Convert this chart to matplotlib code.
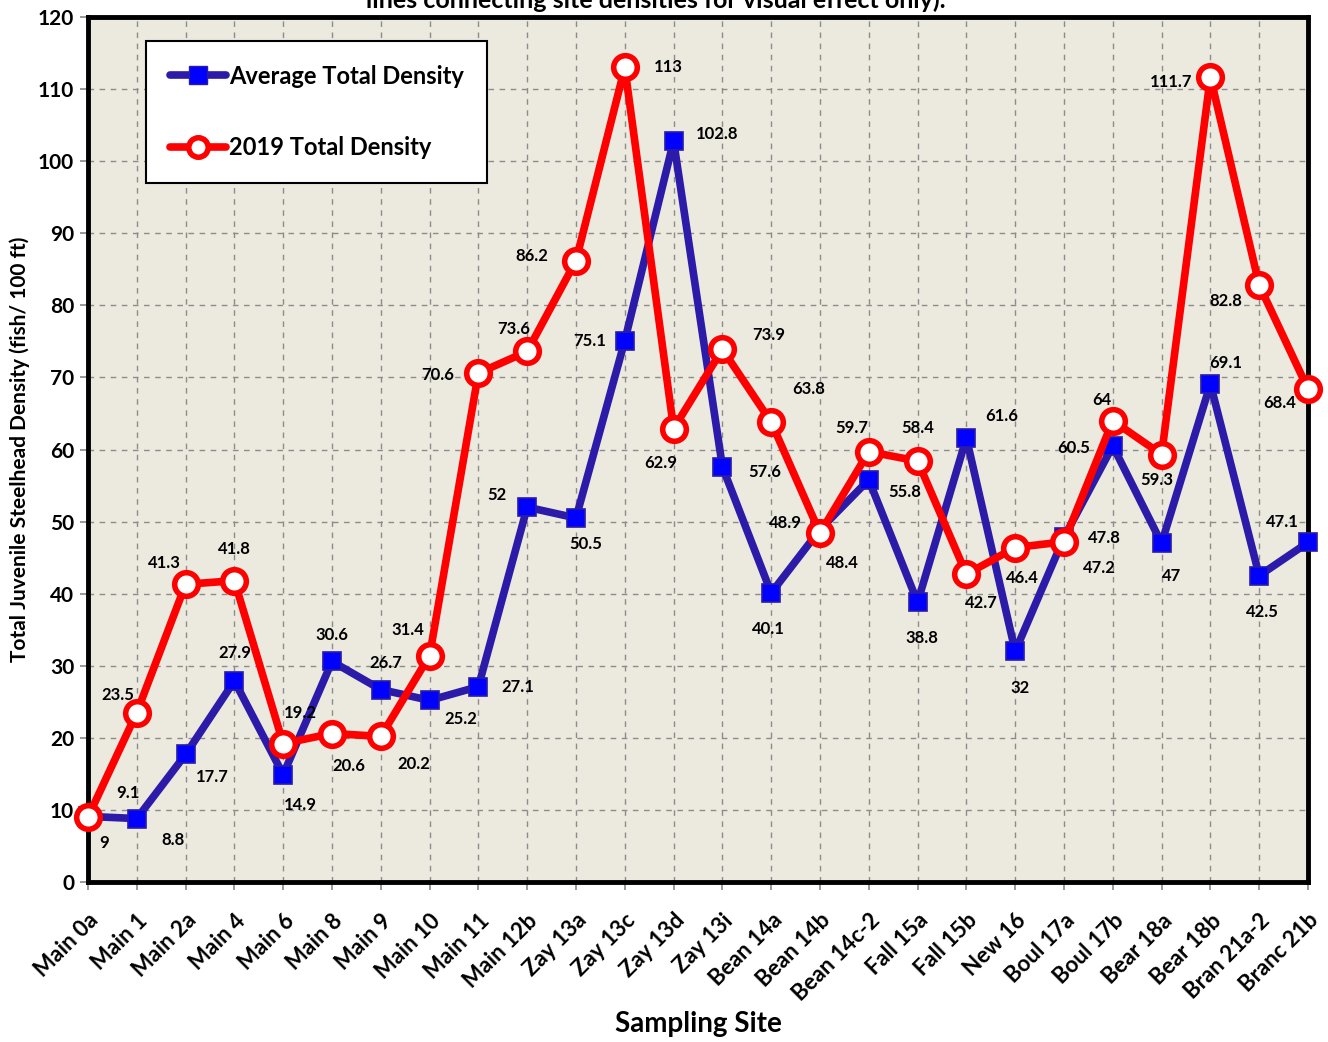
import matplotlib
matplotlib.use("Agg")
import matplotlib.pyplot as plt
from matplotlib.lines import Line2D

sites = ["Main 0a", "Main 1", "Main 2a", "Main 4", "Main 6", "Main 8", "Main 9",
         "Main 10", "Main 11", "Main 12b", "Zay 13a", "Zay 13c", "Zay 13d",
         "Zay 13i", "Bean 14a", "Bean 14b", "Bean 14c-2", "Fall 15a", "Fall 15b",
         "New 16", "Boul 17a", "Boul 17b", "Bear 18a", "Bear 18b", "Bran 21a-2",
         "Branc 21b"]
avg_density = [9.1, 8.8, 17.7, 27.9, 14.9, 30.6, 26.7, 25.2, 27.1, 52, 50.5, 75.1,
               102.8, 57.6, 40.1, 48.9, 55.8, 38.8, 61.6, 32, 47.8, 60.5, 47, 69.1,
               42.5, 47.1]
density_2019 = [9, 23.5, 41.3, 41.8, 19.2, 20.6, 20.2, 31.4, 70.6, 73.6, 86.2, 113,
                62.9, 73.9, 63.8, 48.4, 59.7, 58.4, 42.7, 46.4, 47.2, 64, 59.3, 111.7,
                82.8, 68.4]
yticks = list(range(0, 121, 10))

# label offsets (pixels) for data labels
avg_off = [(40, 23), (36, -21), (27, -23), (0, 28), (17, -30), (0, 26), (5, 27),
           (31, -19), (39, 0), (-30, 12), (10, -26), (-35, 0), (44, 7), (42, -5),
           (-3, -36), (-35, 7), (36, -12), (4, -36), (35, 22), (5, -37), (40, -1),
           (-39, -2), (10, -33), (15, 21), (3, -36), (-26, 20)]
red_off = [(16, -26), (-19, 18), (-21, 21), (0, 32), (17, 31), (17, -32), (33, -28),
           (-22, 26), (-41, -2), (-14, 22), (-44, 5), (43, 0), (-13, -34), (46, 14),
           (37, 33), (22, -30), (-17, 24), (0, 33), (15, -29), (7, -30), (35, -26),
           (-11, 21), (-5, -25), (-39, -5), (-33, -16), (-28, -14)]

FONT = "Lato"
plt.rcParams['font.family'] = [FONT, 'DejaVu Sans']

fig = plt.figure(figsize=(13.28, 10.42), dpi=100)
ax = fig.add_axes([88/1328, 1-882/1042, 1220/1328, 865/1042])
ax.set_facecolor("#ECE9DF")

x = list(range(len(sites)))
blue_line = "#2B1BA8"
ax.plot(x, avg_density, color=blue_line, lw=5.5, marker="s", ms=13,
        mfc="#0000FF", mec=blue_line, mew=1.2, zorder=3, clip_on=False)
ax.plot(x, density_2019, color="#FF0000", lw=5.5, marker="o", ms=17,
        mfc="white", mec="#FF0000", mew=4, zorder=4, clip_on=False)

for i in x:
    ax.annotate(f"{avg_density[i]:g}", (i, avg_density[i]), xytext=avg_off[i],
                textcoords="offset pixels", ha="center", va="center",
                fontsize=12, fontweight="bold", zorder=5)
    ax.annotate(f"{density_2019[i]:g}", (i, density_2019[i]), xytext=red_off[i],
                textcoords="offset pixels", ha="center", va="center",
                fontsize=12, fontweight="bold", zorder=5)

ax.set_xlim(0, len(sites) - 1)
ax.set_ylim(0, 120)
ax.set_yticks(yticks)
ax.set_yticklabels([str(v) for v in yticks], fontsize=15, fontweight="bold")
ax.set_xticks(x)
ax.set_xticklabels(sites, rotation=45, ha="right", rotation_mode="anchor",
                   fontsize=16, fontweight="bold")
ax.tick_params(axis="both", length=6, width=1.2, color="#888888", pad=4)
ax.tick_params(axis="x", pad=14)
ax.grid(True, color="#8C8C8C", ls=(0, (4, 4)), lw=1.0)
ax.set_axisbelow(True)
for s in ax.spines.values():
    s.set_linewidth(3.5)
    s.set_color("black")
    s.set_zorder(2)

fig.text(698/1328, 1-1024/1042, "Sampling Site", ha="center", va="center",
         fontsize=20, fontweight="bold")
ax.set_ylabel("Total Juvenile Steelhead Density (fish/ 100 ft)", fontsize=15,
              fontweight="bold", labelpad=6)

handles = [Line2D([], [], color=blue_line, lw=5.5, marker="s", ms=13,
                  mfc="#0000FF", mec=blue_line, solid_capstyle="round"),
           Line2D([], [], color="#FF0000", lw=5.5, marker="o", ms=14,
                  mfc="white", mec="#FF0000", mew=4, solid_capstyle="round")]
leg = ax.legend(handles, ["Average Total Density", "2019 Total Density"],
                loc="upper left", bbox_to_anchor=(58/1220, 1-24/865),
                prop={"family": FONT, "weight": "bold", "size": 17},
                frameon=True, fancybox=False, edgecolor="black",
                framealpha=1, labelspacing=2.05, handlelength=2.4,
                handletextpad=0.1, borderpad=1.0, borderaxespad=0)
leg.get_frame().set_linewidth(1.5)
leg.set_zorder(6)

fig.text(656/1328, 1-8/1042, "lines connecting site densities for visual effect only).",
         ha="center", va="baseline", fontsize=18, fontweight="bold")

fig.savefig("out.png", dpi=100)
